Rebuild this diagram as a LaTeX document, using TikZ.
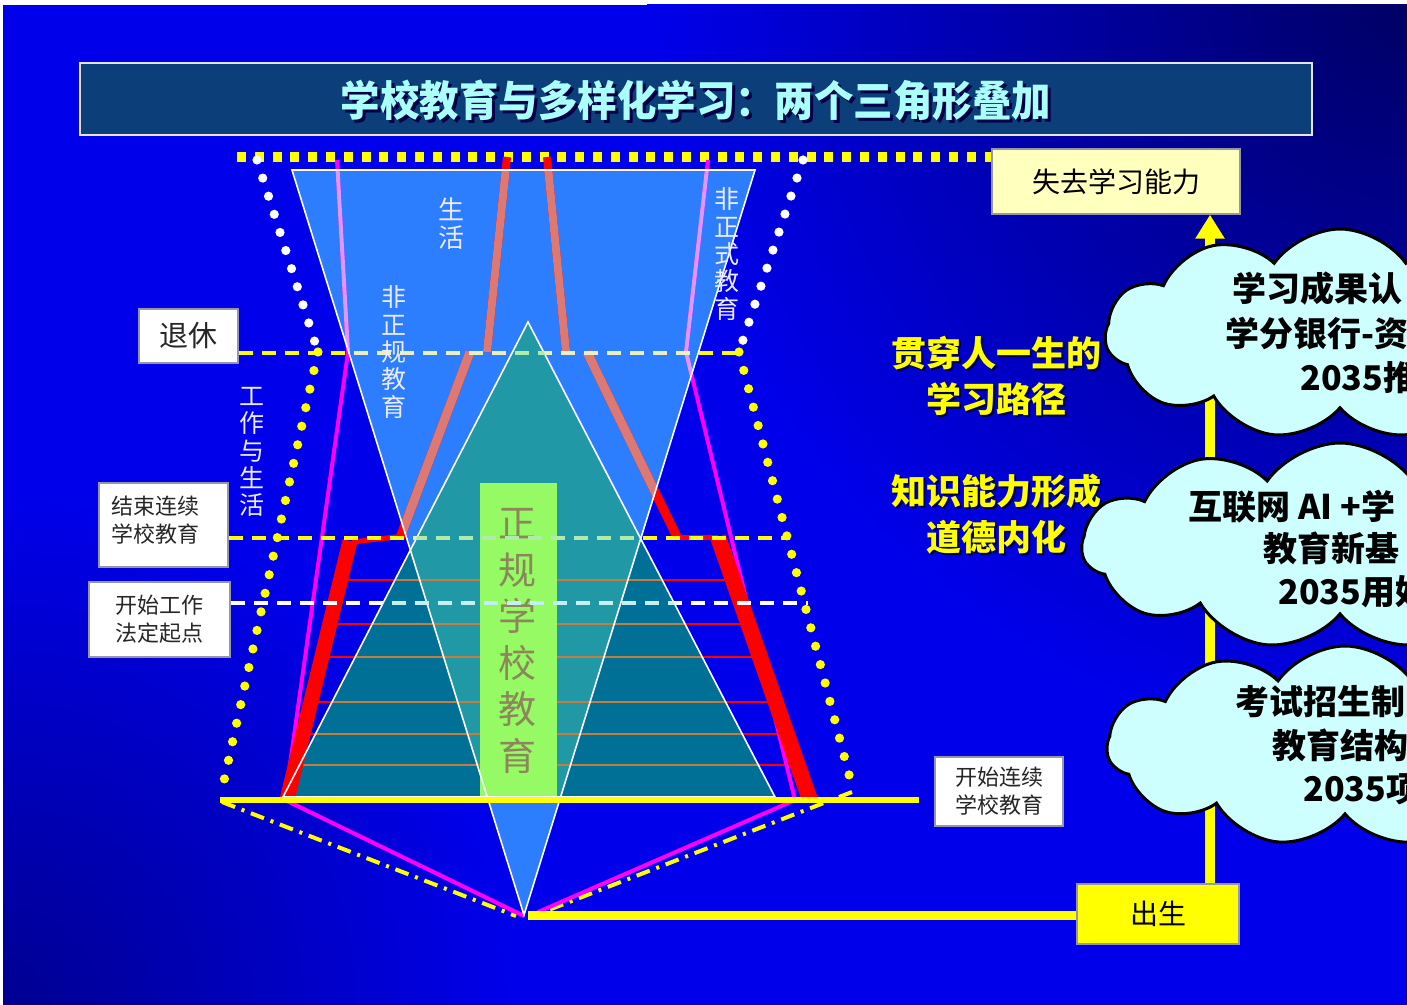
\documentclass[tikz,border=0pt]{standalone}
\usepackage{fontspec}
\setmainfont{Noto Sans CJK SC}
\usetikzlibrary{shapes.symbols,arrows.meta}

\definecolor{bgbright}{RGB}{0,0,235}
\definecolor{bgdark}{RGB}{0,0,100}
\definecolor{bgdarkb}{RGB}{0,0,145}
\definecolor{titlefill}{RGB}{12,62,122}
\definecolor{titletext}{RGB}{170,255,250}
\definecolor{invblue}{RGB}{45,125,255}
\definecolor{tealdark}{RGB}{0,112,150}
\definecolor{teallight}{RGB}{32,152,165}
\definecolor{salmon}{RGB}{222,120,115}
\definecolor{violetl}{RGB}{225,150,255}
\definecolor{thinorange}{RGB}{195,125,60}
\definecolor{paleyellow}{RGB}{235,240,190}
\definecolor{palegreen}{RGB}{175,235,170}
\definecolor{palecyan}{RGB}{195,240,240}
\definecolor{formalgreen}{RGB}{150,250,100}
\definecolor{formaltext}{RGB}{140,135,90}
\definecolor{cloudfill}{RGB}{205,255,255}
\definecolor{losefill}{RGB}{255,255,190}
\definecolor{boxborder}{RGB}{150,150,170}
\definecolor{labelwhite}{RGB}{235,235,255}
\definecolor{ylw}{RGB}{255,255,0}
\definecolor{magental}{RGB}{255,0,255}
\definecolor{shadowc}{RGB}{0,0,70}

\newcommand\mythinlines[1]{%
  \draw[#1, line width=0.8pt] (340.5,580) -- (733.1,580);
  \draw[#1, line width=0.8pt] (329.7,624) -- (748.6,624);
  \draw[#1, line width=0.8pt] (321.7,657) -- (760.1,657);
  \draw[#1, line width=0.8pt] (310.7,702) -- (775.9,702);
  \draw[#1, line width=0.8pt] (302.9,734) -- (787.2,734);
  \draw[#1, line width=0.8pt] (295.3,765) -- (798.1,765);}
\newcommand\mymagentalines[1]{%
  \draw[#1, line width=2pt, line join=round] (337,160) -- (348,352) -- (285,800) -- (524,916);
  \draw[#1, line width=2pt, line join=round] (708,160) -- (686,352) -- (795,800) -- (538,912);}
\newcommand\mylearnpath[1]{%
  \draw[#1, line width=7.5pt] (287,800) -- (350,541);
  \draw[#1, line width=2.5pt] (352,542) -- (404,536);
  \draw[#1, line width=4.5pt] (400,538) -- (470,352);
  \draw[#1, line width=4pt] (487,352) -- (507,157);
  \draw[#1, line width=8pt] (810,800) -- (718,537);
  \draw[#1, line width=2.5pt] (718,537) -- (677,537);
  \draw[#1, line width=4.5pt] (677,537) -- (587,352);
  \draw[#1, line width=4pt] (566,352) -- (547,157);}

\begin{document}
\begin{tikzpicture}[x=0.5pt,y=-0.5pt,
  labelbox/.style={draw=boxborder, line width=0.75pt, fill=white, inner sep=0pt, align=center, text=black!85, font=\fontsize{11}{14}\selectfont},
  lbltext/.style={inner sep=0pt, align=center, font=\fontsize{11}{14}\selectfont, text=black!85},
  vlabel/.style={inner sep=0pt, align=center, text=labelwhite, font=\fontsize{12.5}{13.7}\selectfont},
  pathtext/.style={inner sep=0pt, align=center, font=\fontsize{17.5}{23}\selectfont\bfseries},
  cloudtext/.style={inner sep=0pt, anchor=west, font=\fontsize{17}{20}\selectfont\bfseries, text=black},
  cloudshape/.style={cloud, cloud puffs=11, cloud puff arc=110, draw=black, line width=1.5pt, fill=cloudfill, inner sep=0pt},
  sqdots/.style={ylw, line width=5pt, dash pattern=on 4.5pt off 4.4pt},
  rdots/.style={line width=4.6pt, line cap=round, dash pattern=on 0pt off 9.5pt},
  dashdot/.style={ylw, line width=2pt, dash pattern=on 7pt off 3.5pt on 1.5pt off 3.5pt},
  hdash/.style={line width=2pt, dash pattern=on 7pt off 4.5pt},
  triedge/.style={white, line width=0.8pt, line join=miter},
]
\useasboundingbox (0,0) rectangle (1407,1005);
\clip (0,0) rectangle (1407,1005);
\fill[white] (0,0) rectangle (1407,1005);
\begin{scope}
  \clip (3,5) rectangle (1407,1005);
  \fill[bgbright] (3,5) rectangle (1407,1005);
  \shade[inner color=bgdark, outer color=bgbright] (1407,0) circle (760);
  \shade[inner color=bgdarkb, outer color=bgbright] (0,1005) circle (520);
\end{scope}

% title
\node[draw=white!80!gray, line width=1pt, fill=titlefill, minimum width=616pt, minimum height=36pt, inner sep=0pt] (titlebox) at (696,99) {};
\node[text=shadowc, inner sep=0pt, font=\fontsize{21}{25}\selectfont\bfseries] (titleshadow) at (699,103) {\scalebox{0.94}[1]{学校教育与多样化学习：两个三角形叠加}};
\node[text=titletext, inner sep=0pt, font=\fontsize{21}{25}\selectfont\bfseries] (titletxt) at (696,100) {\scalebox{0.94}[1]{学校教育与多样化学习：两个三角形叠加}};

% named points
\coordinate (ap) at (524,915);
\coordinate (itl) at (292,170);
\coordinate (itr) at (755,170);
\coordinate (ua) at (528,322);
\coordinate (ubl) at (283,797);
\coordinate (ubr) at (775,797);

% boxes
\node[draw=boxborder, line width=0.75pt, fill=losefill, minimum width=124pt, minimum height=32.5pt, inner sep=0pt, font=\fontsize{14}{16}\selectfont] (lose) at (1116,181.5) {失去学习能力};
\node[draw=boxborder, line width=0.75pt, fill=ylw, minimum width=81pt, minimum height=30pt, inner sep=0pt, font=\fontsize{14}{16}\selectfont] (birth) at (1158,914) {出生};
\node[labelbox, minimum width=64pt, minimum height=34.5pt] (startcont) at (999,791.5) {开始连续\\学校教育};
\node[labelbox, minimum width=49.5pt, minimum height=27pt, font=\fontsize{14.5}{16}\selectfont] (retire) at (188.5,336) {退休};
\node[labelbox, minimum width=64.5pt, minimum height=42pt] (endcont) at (163.5,525) {};
\node[lbltext] (endconttxt) at (155,520) {结束连续\\学校教育};
\node[labelbox, minimum width=70.5pt, minimum height=37.5pt] (startwork) at (159.5,619.5) {开始工作\\法定起点};

% top dotted line
\coordinate (topL) at (237,157);
\draw[sqdots] (topL) -- (topL -| lose.west);

% dotted outlines
\coordinate (wl0) at (257,160);
\coordinate (wl1) at (318,352);
\coordinate (yl1) at (222,790);
\coordinate (wr0) at (803,160);
\coordinate (wr1) at (739,352);
\coordinate (yr1) at (853,790);
\draw[rdots, white] (wl0) -- (wl1);
\draw[rdots, ylw] (wl1) -- (yl1);
\draw[rdots, white] (wr0) -- (wr1);
\draw[rdots, ylw] (wr1) -- (yr1);
\coordinate (dl0) at (222,802);
\coordinate (dl1) at (516,916);
\coordinate (dr0) at (852,792);
\coordinate (dr1) at (546,911);
\draw[dashdot] (dl0) -- (dl1);
\draw[dashdot] (dr0) -- (dr1);

% triangles
\fill[invblue] (itl) -- (itr) -- (ap) -- cycle;
\fill[tealdark] (ua) -- (ubl) -- (ubr) -- cycle;
\begin{scope}
  \clip (itl) -- (itr) -- (ap) -- cycle;
  \fill[teallight] (ua) -- (ubl) -- (ubr) -- cycle;
\end{scope}

% thin lines
\mythinlines{red}
\begin{scope}
  \clip (ua) -- (ubl) -- (ubr) -- cycle;
  \mythinlines{thinorange}
\end{scope}

% magenta lines
\mymagentalines{magental}
\begin{scope}
  \clip (itl) -- (itr) -- (ap) -- cycle;
  \mymagentalines{violetl}
\end{scope}

% learning path
\mylearnpath{red}
\begin{scope}
  \clip (itl) -- (itr) -- (ap) -- cycle;
  \mylearnpath{salmon}
\end{scope}

% formal school box
\node[fill=formalgreen, minimum width=38.5pt, minimum height=157pt, inner sep=0pt] (formalbox) at (518.5,640) {};
\node[text=formaltext, font=\fontsize{19}{23.3}\selectfont, align=center, inner sep=0pt] (formaltxt) at (517,641) {正\\规\\学\\校\\教\\育};

% triangle edges
\draw[triedge] (itl) -- (itr) -- (ap) -- cycle;
\draw[triedge] (ua) -- (ubl) -- (ubr) -- cycle;

% dashed lines
\coordinate (d1b) at (742,353);
\coordinate (d2b) at (790,538);
\coordinate (d3b) at (808,603);
\newcommand\mydashes[2]{%
  \draw[hdash, #1] (retire.east |- d1b) -- (d1b);
  \draw[hdash, #1] (endcont.east |- d2b) -- (d2b);
  \draw[hdash, #2] (startwork.east |- d3b) -- (d3b);}
\mydashes{ylw}{white}
\begin{scope}
  \clip (itl) -- (itr) -- (ap) -- cycle;
  \mydashes{paleyellow}{palecyan}
\end{scope}
\begin{scope}
  \clip (ua) -- (ubl) -- (ubr) -- cycle;
  \mydashes{palegreen}{palecyan}
\end{scope}

% base lines
\coordinate (basel) at (220,800);
\draw[ylw, line width=3pt, shorten >=7.5pt] (basel) -- (basel -| startcont.west);
\coordinate (bottomL) at (528,915);
\draw[ylw, line width=4.5pt] (bottomL) -- (bottomL -| birth.west);

% vertical labels
\node[vlabel, font=\fontsize{13}{14}\selectfont] (shenghuo) at (451,224) {生\\活};
\node[vlabel] (feizhenggui) at (394,352) {非\\正\\规\\教\\育};
\node[vlabel] (feizhengshi) at (727,254) {非\\正\\式\\教\\育};
\node[vlabel] (gongzuo) at (252,452) {工\\作\\与\\生\\活};

% right yellow texts
\node[pathtext, text=shadowc] (path1s) at (998,378) {贯穿人一生的\\学习路径};
\node[pathtext, text=ylw] (path1) at (996,376) {贯穿人一生的\\学习路径};
\node[pathtext, text=shadowc] (path2s) at (998,516) {知识能力形成\\道德内化};
\node[pathtext, text=ylw] (path2) at (996,514) {知识能力形成\\道德内化};

% vertical arrow
\coordinate (vx) at (1210,0);
\draw[ylw, line width=5pt, -{Triangle[length=12pt, width=14pt]}] (vx |- birth.north) -- (vx |- lose.south);

% clouds
\node[cloudshape, minimum width=235pt, minimum height=105pt] (cloud1) at (1340,334) {};
\node[cloudshape, minimum width=258pt, minimum height=103pt] (cloud2) at (1340,546) {};
\node[cloudshape, minimum width=238pt, minimum height=100pt] (cloud3) at (1345,746) {};
\node[cloudtext] (c1a) at (1232,289) {学习成果认};
\node[cloudtext] (c1b) at (1225,333) {学分银行-资};
\node[cloudtext] (c1c) at (1300,378) {2035推};
\node[cloudtext] (c2a) at (1188,507) {互联网 AI +学};
\node[cloudtext] (c2b) at (1263,548) {教育新基};
\node[cloudtext] (c2c) at (1278,592) {2035用好};
\node[cloudtext] (c3a) at (1235,702) {考试招生制};
\node[cloudtext] (c3b) at (1272,745) {教育结构};
\node[cloudtext] (c3c) at (1303,789) {2035项};
\end{tikzpicture}
\end{document}
